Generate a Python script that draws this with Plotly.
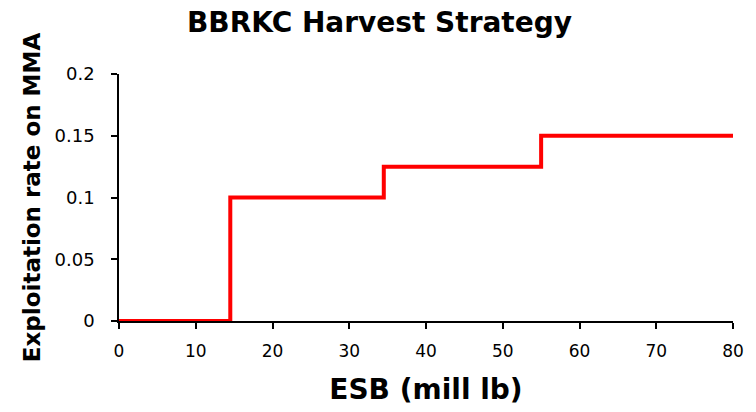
import plotly.graph_objects as go

esb = [0, 14.5, 34.5, 55, 80]
rate = [0, 0.1, 0.125, 0.15, 0.15]
x_ticks = [0, 10, 20, 30, 40, 50, 60, 70, 80]
y_ticks = [0, 0.05, 0.1, 0.15, 0.2]
y_labels = ["0", "0.05", "0.1", "0.15", "0.2"]

fig = go.Figure(go.Scatter(x=esb, y=rate, mode="lines", line=dict(color="#ff0000", width=4, shape="hv")))

fig.update_layout(
    width=756, height=412,
    margin=dict(l=119, r=20, t=74, b=90),
    paper_bgcolor="white", plot_bgcolor="white",
    font=dict(family="DejaVu Sans, sans-serif", color="black"),
    showlegend=False,
    title=dict(text="<b>BBRKC Harvest Strategy</b>", x=0.502, xanchor="center", y=0.945, yanchor="middle",
               font=dict(size=28, color="black")),
)
fig.update_xaxes(range=[0, 80], tickvals=x_ticks, showgrid=False, zeroline=False,
                 showline=True, linecolor="black", linewidth=1.5,
                 ticks="outside", ticklen=6, tickcolor="black", tickwidth=1.5,
                 tickfont=dict(size=17), ticklabelstandoff=8,
                 title=dict(text="<b>ESB (mill lb)</b>", font=dict(size=28), standoff=19))
fig.update_yaxes(range=[0, 0.2], tickvals=y_ticks, ticktext=y_labels, showgrid=False, zeroline=False,
                 showline=True, linecolor="black", linewidth=1.5,
                 ticks="outside", ticklen=6, tickcolor="black", tickwidth=1.5,
                 tickfont=dict(size=18), ticklabelstandoff=13,
                 title=dict(text="<b>Exploitation rate on MMA</b>", font=dict(size=23), standoff=8))

fig.write_html("out.html", config={"displayModeBar": False},
               post_script="document.body.style.margin='0';")
